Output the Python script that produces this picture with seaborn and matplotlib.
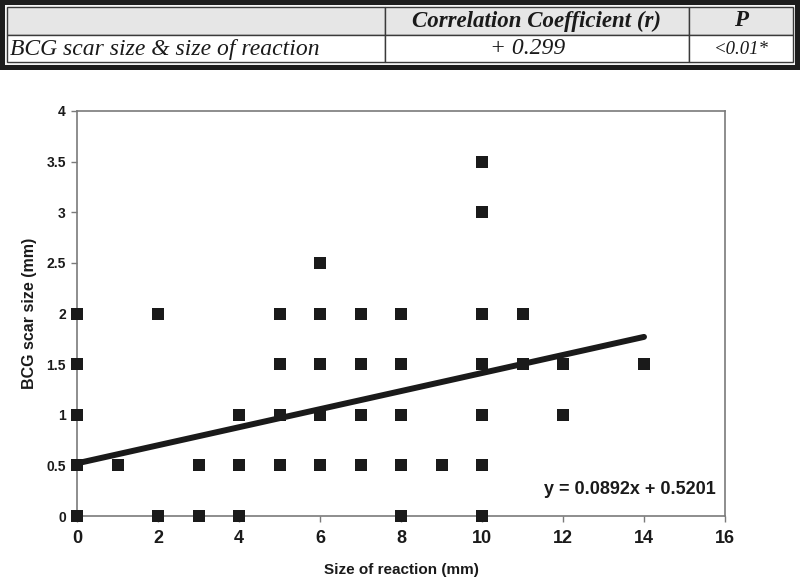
import matplotlib
matplotlib.use("Agg")
import matplotlib.pyplot as plt
from matplotlib.patches import Rectangle
import numpy as np
import pandas as pd
import seaborn as sns

# Data
reaction_mm = [0, 0, 0, 0, 0,
               1,
               2, 2,
               3, 3,
               4, 4, 4,
               5, 5, 5, 5,
               6, 6, 6, 6, 6,
               7, 7, 7, 7,
               8, 8, 8, 8, 8,
               9,
               10, 10, 10, 10, 10, 10, 10,
               11, 11,
               12, 12,
               14]
scar_mm = [0, 0.5, 1, 1.5, 2,
           0.5,
           0, 2,
           0, 0.5,
           0, 0.5, 1,
           0.5, 1, 1.5, 2,
           0.5, 1, 1.5, 2, 2.5,
           0.5, 1, 1.5, 2,
           0, 0.5, 1, 1.5, 2,
           0.5,
           0, 0.5, 1, 1.5, 2, 3, 3.5,
           1.5, 2,
           1, 1.5,
           1.5]

slope = 0.0892
intercept = 0.5201
fit_range = [0, 14]

table_header = ["", "Correlation Coefficient (r)", "P"]
table_row = ["BCG scar size & size of reaction", "+ 0.299", "<0.01*"]

x_ticks = [0, 2, 4, 6, 8, 10, 12, 14, 16]
y_ticks = [0, 0.5, 1, 1.5, 2, 2.5, 3, 3.5, 4]
y_tick_labels = ["0", "0.5", "1", "1.5", "2", "2.5", "3", "3.5", "4"]

df = pd.DataFrame({"reaction": reaction_mm, "scar": scar_mm})

sns.set_style("white")
narrow = ["Liberation Sans Narrow", "Liberation Sans", "DejaVu Sans"]
sans = ["Liberation Sans", "DejaVu Sans"]
serif = ["Liberation Serif", "DejaVu Serif"]
plt.rcParams["font.family"] = narrow

W, H = 800, 579
fig = plt.figure(figsize=(W / 100, H / 100), dpi=100)


def fx(px):
    return px / W


def fy(py):
    return 1 - py / H


# ---- table band at the top ----
fig.patches.append(Rectangle((0, fy(70)), 1, fy(0) - fy(70), transform=fig.transFigure,
                             facecolor="#1c1c1c", edgecolor="none", zorder=0))
fig.patches.append(Rectangle((fx(5), fy(65)), fx(790), fy(0) - fy(60), transform=fig.transFigure,
                             facecolor="#f4f4f4", edgecolor="none", zorder=1))

col_edges = [7, 385, 689, 793]
row_edges = [7, 35, 62]
row_fill = ["#e6e6e6", "#ffffff"]
for r in range(2):
    for c in range(3):
        x0, x1 = col_edges[c], col_edges[c + 1]
        y0, y1 = row_edges[r], row_edges[r + 1]
        fig.patches.append(Rectangle((fx(x0), fy(y1)), fx(x1 - x0), fy(y0) - fy(y1),
                                     transform=fig.transFigure, facecolor=row_fill[r],
                                     edgecolor="#3a3a3a", linewidth=1.0, zorder=2))

for c, txt in enumerate(table_header):
    if txt:
        cx = (col_edges[c] + col_edges[c + 1]) / 2
        fig.text(fx(cx), fy(21), txt, ha="center", va="center", family=serif,
                 style="italic", weight="bold", fontsize=16.5, color="#1a1a1a", zorder=3)
fig.text(fx(10), fy(49), table_row[0], ha="left", va="center", family=serif,
         style="italic", fontsize=17, color="#1a1a1a", zorder=3)
fig.text(fx(528), fy(49), table_row[1], ha="center",
         va="center", family=serif, style="italic", fontsize=17, color="#1a1a1a", zorder=3)
fig.text(fx((col_edges[2] + col_edges[3]) / 2), fy(49), table_row[2], ha="center",
         va="center", family=serif, style="italic", fontsize=13.5, color="#1a1a1a", zorder=3)

# ---- scatter plot ----
ax = fig.add_axes([fx(77), fy(516), fx(725 - 77), fy(111) - fy(516)])

sns.scatterplot(data=df, x="reaction", y="scar", marker="s", s=68, color="#1a1a1a",
                linewidth=0, ax=ax, clip_on=False, zorder=3)

fit_x = np.array(fit_range, dtype=float)
ax.plot(fit_x, slope * fit_x + intercept, color="#1a1a1a", linewidth=4.3,
        solid_capstyle="round", zorder=4)

ax.set_xlim(0, 16)
ax.set_ylim(0, 4)
ax.set_xticks(x_ticks)
ax.set_yticks(y_ticks)
ax.set_yticklabels(y_tick_labels)

for side in ["left", "right", "top", "bottom"]:
    ax.spines[side].set_visible(True)
    ax.spines[side].set_color("#7a7a7a")
    ax.spines[side].set_linewidth(1.2)

ax.tick_params(axis="both", direction="out", length=4, width=1.0, color="#7a7a7a",
               bottom=True, left=True)
ax.tick_params(axis="x", labelsize=13, pad=6)
ax.tick_params(axis="y", labelsize=10, pad=4)
for lbl in ax.get_xticklabels():
    lbl.set_fontweight("bold")
    lbl.set_color("#1a1a1a")
for lbl in ax.get_yticklabels():
    lbl.set_fontweight("bold")
    lbl.set_family(sans)
    lbl.set_color("#1a1a1a")

ax.set_xlabel("Size of reaction (mm)", fontsize=11, fontweight="bold", color="#1a1a1a")
ax.set_ylabel("BCG scar size (mm)", fontsize=11.5, fontweight="bold", color="#1a1a1a",
              family=sans)
ax.xaxis.set_label_coords(0.5, -0.115)
ax.yaxis.set_label_coords(-0.062, 0.5)

ax.text(0.985, 0.065, f"y = {slope}x + {intercept}", transform=ax.transAxes,
        ha="right", va="center", fontsize=13, fontweight="bold",
        family=sans, color="#1a1a1a")

fig.savefig("out.png", dpi=100)
